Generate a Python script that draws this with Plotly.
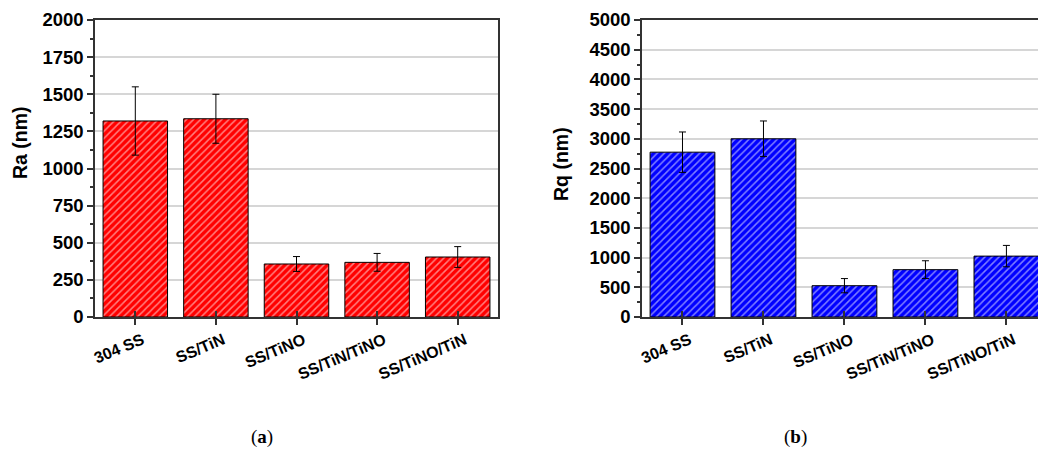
import plotly.graph_objects as go

# Surface roughness of the coatings
samples = ["304 SS", "SS/TiN", "SS/TiNO", "SS/TiN/TiNO", "SS/TiNO/TiN"]
ra_mean = [1320, 1335, 357, 368, 404]
ra_err = [230, 165, 50, 60, 70]
rq_mean = [2775, 3000, 527, 797, 1025]
rq_err = [340, 300, 120, 150, 180]

W, H = 1038, 450
AXIS_COLOR = "#333333"
GRID_COLOR = "#d6d6d6"
TICK_FONT = dict(family="Liberation Sans, Arial", size=18.5, color="black")
XTICK_FONT = dict(family="Liberation Sans, Arial", size=16, color="black")


def px_x(p):
    return p / W


def px_y(p):
    return 1 - p / H


fig = go.Figure()


def add_bars(xaxis, yaxis, values, errors, color):
    fig.add_trace(go.Bar(
        x=list(range(len(samples))), y=values,
        xaxis=xaxis, yaxis=yaxis, width=0.8,
        marker=dict(
            color=color,
            line=dict(color="black", width=1),
            pattern=dict(shape="/", fgcolor="white", bgcolor=color,
                         size=5, solidity=0.3, fillmode="overlay"),
        ),
        error_y=dict(type="data", array=errors, color="black",
                     thickness=1, width=3.5),
        showlegend=False,
    ))


add_bars("x", "y", ra_mean, ra_err, "#ff0000")
add_bars("x2", "y2", rq_mean, rq_err, "#0000ff")

ydom = [px_y(317), px_y(20)]
x1dom = [px_x(95), px_x(498)]
x2dom = [px_x(642), 1.0]

bold_labels = [f"<b>{s}</b>" for s in samples]


def xaxis_cfg(domain, rng, anchor, mirror):
    return dict(
        domain=domain, range=rng, anchor=anchor, automargin=False,
        showline=True, linecolor=AXIS_COLOR, linewidth=1.5, mirror=mirror,
        tickmode="array", tickvals=list(range(len(samples))),
        ticktext=bold_labels, tickangle=-23, tickfont=XTICK_FONT,
        ticklabelshift=7,
        ticks="outside", ticklen=6, tickcolor=AXIS_COLOR, tickwidth=1.5,
        showgrid=False, zeroline=False, fixedrange=True,
    )


def yaxis_cfg(domain, rng, anchor, dtick, mirror):
    return dict(
        domain=domain, range=rng, anchor=anchor, automargin=False,
        showline=True, linecolor=AXIS_COLOR, linewidth=1.5, mirror=mirror,
        tick0=0, dtick=dtick, tickfont=TICK_FONT, tickprefix="<b>", ticksuffix="</b>",
        ticks="outside", ticklen=6, tickcolor=AXIS_COLOR, tickwidth=1.5,
        minor=dict(ticks="outside", ticklen=3, dtick=dtick / 2,
                   tickcolor=AXIS_COLOR, tickwidth=1.5, showgrid=False),
        showgrid=True, gridcolor=GRID_COLOR, gridwidth=1.5,
        zeroline=False, fixedrange=True,
    )


def inner_ticks(domain, rng, anchor, overlay):
    # inward tick marks at each category on the baseline
    return dict(domain=domain, range=rng, anchor=anchor, overlaying=overlay,
                automargin=False,
                tickmode="array", tickvals=list(range(len(samples))),
                showticklabels=False, ticks="inside", ticklen=6,
                tickcolor=AXIS_COLOR, tickwidth=1.5, showgrid=False,
                showline=False, zeroline=False, fixedrange=True)


fig.update_layout(
    width=W, height=H,
    margin=dict(l=0, r=0, t=0, b=0, pad=0, autoexpand=False),
    paper_bgcolor="white", plot_bgcolor="white",
    bargap=0.2,
    xaxis=xaxis_cfg(x1dom, [-0.5, 4.5], "y", True),
    yaxis=yaxis_cfg(ydom, [0, 2000], "x", 250, True),
    xaxis2=xaxis_cfg(x2dom, [-0.5, 4.39], "y2", True),
    yaxis2=yaxis_cfg(ydom, [0, 5000], "x2", 500, False),
    xaxis3=inner_ticks(x1dom, [-0.5, 4.5], "y", "x"),
    xaxis4=inner_ticks(x2dom, [-0.5, 4.39], "y2", "x2"),
)

# empty traces so the overlay axes are drawn
fig.add_trace(go.Scatter(x=[0], y=[None], xaxis="x3", yaxis="y", showlegend=False,
                         hoverinfo="skip"))
fig.add_trace(go.Scatter(x=[0], y=[None], xaxis="x4", yaxis="y2", showlegend=False,
                         hoverinfo="skip"))

title_font = dict(family="Liberation Sans, Arial", size=19.5, color="black")
fig.add_annotation(text="<b>Ra (nm)</b>", textangle=-90, font=title_font,
                   x=px_x(20), y=px_y(143), xref="paper", yref="paper",
                   xanchor="center", yanchor="middle", showarrow=False)
fig.add_annotation(text="<b>Rq (nm)</b>", textangle=-90, font=title_font,
                   x=px_x(561), y=px_y(164), xref="paper", yref="paper",
                   xanchor="center", yanchor="middle", showarrow=False)

caption_font = dict(family="Liberation Serif, Palatino, serif", size=19, color="black")
fig.add_annotation(text="(<b>a</b>)", font=caption_font,
                   x=px_x(262), y=px_y(437), xref="paper", yref="paper",
                   xanchor="center", yanchor="middle", showarrow=False)
fig.add_annotation(text="(<b>b</b>)", font=caption_font,
                   x=px_x(795), y=px_y(437), xref="paper", yref="paper",
                   xanchor="center", yanchor="middle", showarrow=False)

fig.write_html("out.html")
